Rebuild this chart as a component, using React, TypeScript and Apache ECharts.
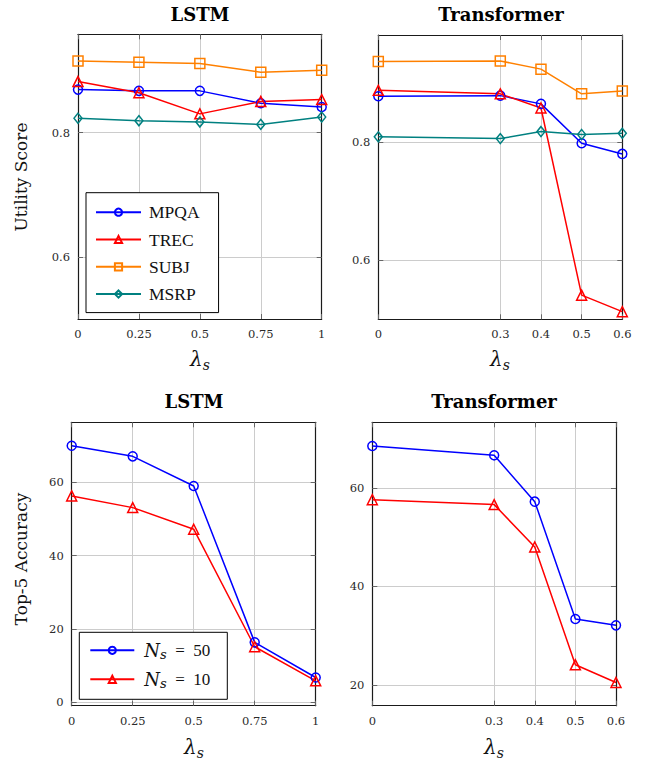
import React, { useEffect, useRef } from 'react';
import * as echarts from 'echarts';

// ---- data ----
const lambdaLSTM = [0, 0.25, 0.5, 0.75, 1];
const lambdaTransformer = [0, 0.3, 0.4, 0.5, 0.6];

const utilityTicks = [0.6, 0.8];
const accuracyTicksLSTM = [0, 20, 40, 60];
const accuracyTicksTransformer = [20, 40, 60];

const utilLSTM_MPQA = [0.869, 0.867, 0.867, 0.847, 0.841];
const utilLSTM_TREC = [0.882, 0.864, 0.83, 0.85, 0.853];
const utilLSTM_SUBJ = [0.915, 0.913, 0.911, 0.897, 0.9];
const utilLSTM_MSRP = [0.823, 0.819, 0.817, 0.813, 0.825];

const utilTrans_MPQA = [0.878, 0.879, 0.865, 0.798, 0.78];
const utilTrans_TREC = [0.888, 0.882, 0.858, 0.54, 0.512];
const utilTrans_SUBJ = [0.937, 0.938, 0.924, 0.882, 0.887];
const utilTrans_MSRP = [0.809, 0.806, 0.818, 0.813, 0.815];

const accLSTM_N50 = [70.0, 67.1, 59.0, 16.3, 6.7];
const accLSTM_N10 = [56.3, 53.1, 47.2, 15.1, 5.8];
const accTrans_N50 = [68.5, 66.6, 57.2, 33.4, 32.1];
const accTrans_N10 = [57.6, 56.6, 48.0, 24.1, 20.5];

const datasetNames = ['MPQA', 'TREC', 'SUBJ', 'MSRP'];
const sampleNames = ['N50', 'N10'];
const sampleLabels: Record<string, string> = { N50: '50', N10: '10' };

const BLUE = '#0000ff';
const RED = '#ff0000';
const ORANGE = '#ff8000';
const TEAL = '#008080';

const SERIF = 'DejaVu Serif';
const TIMES = 'Liberation Serif';

// grid geometry
const grids = [
  { left: 78, top: 34.3, width: 243.7, height: 284.7 },
  { left: 378.3, top: 35, width: 244, height: 284.3 },
  { left: 71.7, top: 422.3, width: 244, height: 283.4 },
  { left: 372.3, top: 422.3, width: 243.7, height: 283.4 },
];
const xRanges = [
  [0, 1],
  [0, 0.6],
  [0, 1],
  [0, 0.6],
];
const yRanges = [
  [0.5, 0.958],
  [0.499, 0.982],
  [-1, 76.4],
  [15.8, 73.3],
];
const xTicks = [lambdaLSTM, lambdaTransformer, lambdaLSTM, lambdaTransformer];
const yTicks = [utilityTicks, utilityTicks, accuracyTicksLSTM, accuracyTicksTransformer];

function makeAxis(kind: 'x' | 'y', idx: number, primary: boolean) {
  const range = kind === 'x' ? xRanges[idx] : yRanges[idx];
  const ticks = kind === 'x' ? xTicks[idx] : yTicks[idx];
  return {
    type: 'value',
    gridIndex: idx,
    min: range[0],
    max: range[1],
    position: kind === 'x' ? (primary ? 'bottom' : 'top') : primary ? 'left' : 'right',
    axisLine: { show: true, onZero: false, lineStyle: { color: '#1a1a1a', width: 1.2 } },
    axisTick: {
      show: true,
      inside: true,
      length: 5,
      customValues: ticks,
      lineStyle: { color: '#666', width: 1 },
    },
    axisLabel: {
      show: primary,
      customValues: ticks,
      margin: kind === 'x' ? 9 : 8,
      fontFamily: SERIF,
      fontSize: 11.5,
      color: '#2a2a2a',
      formatter: (v: number) => String(v),
    },
    splitLine: { show: primary, lineStyle: { color: '#cccccc', width: 1 } },
  };
}

function makeSeries(
  name: string,
  xs: number[],
  ys: number[],
  idx: number,
  symbol: string,
  symbolSize: number | number[],
  color: string
) {
  return {
    type: 'line',
    name,
    xAxisIndex: idx,
    yAxisIndex: idx,
    data: xs.map((x, i) => [x, ys[i]]),
    symbol,
    symbolSize,
    showSymbol: true,
    lineStyle: { color, width: 1.5 },
    itemStyle: { color: 'rgba(255,255,255,0)', borderColor: color, borderWidth: 1.5 },
    emphasis: { disabled: true },
    silent: true,
  };
}

const lambdaRich = {
  l: { fontFamily: SERIF, fontStyle: 'italic', fontSize: 20, color: '#222' },
  s: { fontFamily: SERIF, fontStyle: 'italic', fontSize: 14, color: '#222', padding: [12, 0, 0, 0] },
};

function textEl(x: number, y: number, text: string, style: any, rotation = 0) {
  return {
    type: 'text',
    x,
    y,
    rotation,
    silent: true,
    style: {
      text,
      align: 'center',
      verticalAlign: 'middle',
      textAlign: 'center',
      textVerticalAlign: 'middle',
      fill: '#111',
      ...style,
    },
  };
}

export default function App() {
  const ref = useRef<HTMLDivElement>(null);

  useEffect(() => {
    if (!ref.current) return;
    const chart = echarts.init(ref.current, undefined, { renderer: 'svg' });

    const series = [
      makeSeries('MPQA', lambdaLSTM, utilLSTM_MPQA, 0, 'circle', 9, BLUE),
      makeSeries('TREC', lambdaLSTM, utilLSTM_TREC, 0, 'triangle', 10, RED),
      makeSeries('SUBJ', lambdaLSTM, utilLSTM_SUBJ, 0, 'rect', 10, ORANGE),
      makeSeries('MSRP', lambdaLSTM, utilLSTM_MSRP, 0, 'diamond', [8, 10], TEAL),
      makeSeries('MPQA', lambdaTransformer, utilTrans_MPQA, 1, 'circle', 9, BLUE),
      makeSeries('TREC', lambdaTransformer, utilTrans_TREC, 1, 'triangle', 10, RED),
      makeSeries('SUBJ', lambdaTransformer, utilTrans_SUBJ, 1, 'rect', 10, ORANGE),
      makeSeries('MSRP', lambdaTransformer, utilTrans_MSRP, 1, 'diamond', [8, 10], TEAL),
      makeSeries('N50', lambdaLSTM, accLSTM_N50, 2, 'circle', 9, BLUE),
      makeSeries('N10', lambdaLSTM, accLSTM_N10, 2, 'triangle', 10, RED),
      makeSeries('N50', lambdaTransformer, accTrans_N50, 3, 'circle', 9, BLUE),
      makeSeries('N10', lambdaTransformer, accTrans_N10, 3, 'triangle', 10, RED),
    ];

    const titleStyle = { fontFamily: SERIF, fontWeight: 'bold', fontSize: 18, fill: '#000' };
    const ylabStyle = { fontFamily: SERIF, fontSize: 17, fill: '#111' };
    const lambdaText = '{l|λ}{s|s}';

    const option: any = {
      animation: false,
      textStyle: { fontFamily: SERIF },
      grid: grids.map((g) => ({ ...g, containLabel: false, outerBoundsMode: 'none' })),
      xAxis: [0, 1, 2, 3].map((i) => makeAxis('x', i, true)).concat([0, 1, 2, 3].map((i) => makeAxis('x', i, false))),
      yAxis: [0, 1, 2, 3].map((i) => makeAxis('y', i, true)).concat([0, 1, 2, 3].map((i) => makeAxis('y', i, false))),
      legend: [
        {
          data: datasetNames,
          orient: 'vertical',
          left: 86,
          top: 192.7,
          itemWidth: 45,
          itemHeight: 9,
          itemGap: 9.3,
          padding: [10.5, 19, 9.5, 9],
          borderColor: '#000',
          borderWidth: 1,
          backgroundColor: '#fff',
          selectedMode: false,
          textStyle: { fontFamily: TIMES, fontSize: 17.5, color: '#111', lineHeight: 18, padding: [0, 0, 0, 3] },
        },
        {
          data: sampleNames,
          orient: 'vertical',
          left: 79.3,
          top: 632.3,
          itemWidth: 44,
          itemHeight: 9,
          itemGap: 9,
          padding: [9, 17, 9, 10],
          borderColor: '#000',
          borderWidth: 1,
          backgroundColor: '#fff',
          selectedMode: false,
          formatter: (name: string) => `{n|N}{s|s}{t|  =  ${sampleLabels[name]}}`,
          textStyle: {
            fontFamily: TIMES,
            fontSize: 17,
            color: '#111',
            lineHeight: 18,
            padding: [0, 0, 0, 5],
            rich: {
              n: { fontFamily: SERIF, fontStyle: 'italic', fontSize: 18, color: '#111' },
              s: { fontFamily: SERIF, fontStyle: 'italic', fontSize: 13, color: '#111', padding: [9, 0, 0, 0] },
              t: { fontFamily: TIMES, fontSize: 17, color: '#111' },
            },
          },
        },
      ],
      graphic: [
        textEl(200, 14, 'LSTM', titleStyle),
        textEl(501, 14, 'Transformer', titleStyle),
        textEl(194, 401, 'LSTM', titleStyle),
        textEl(494, 401, 'Transformer', titleStyle),
        textEl(21, 177, 'Utility Score', ylabStyle, Math.PI / 2),
        textEl(21, 559, 'Top-5 Accuracy', ylabStyle, Math.PI / 2),
        textEl(200, 359, lambdaText, { rich: lambdaRich }),
        textEl(500, 359, lambdaText, { rich: lambdaRich }),
        textEl(194, 747, lambdaText, { rich: lambdaRich }),
        textEl(494, 747, lambdaText, { rich: lambdaRich }),
      ],
      series,
    };

    chart.setOption(option);
    return () => {
      chart.dispose();
    };
  }, []);

  return (
    <div
      ref={ref}
      style={{ position: 'fixed', left: 0, top: 0, width: 650, height: 766, background: '#fff' }}
    />
  );
}
